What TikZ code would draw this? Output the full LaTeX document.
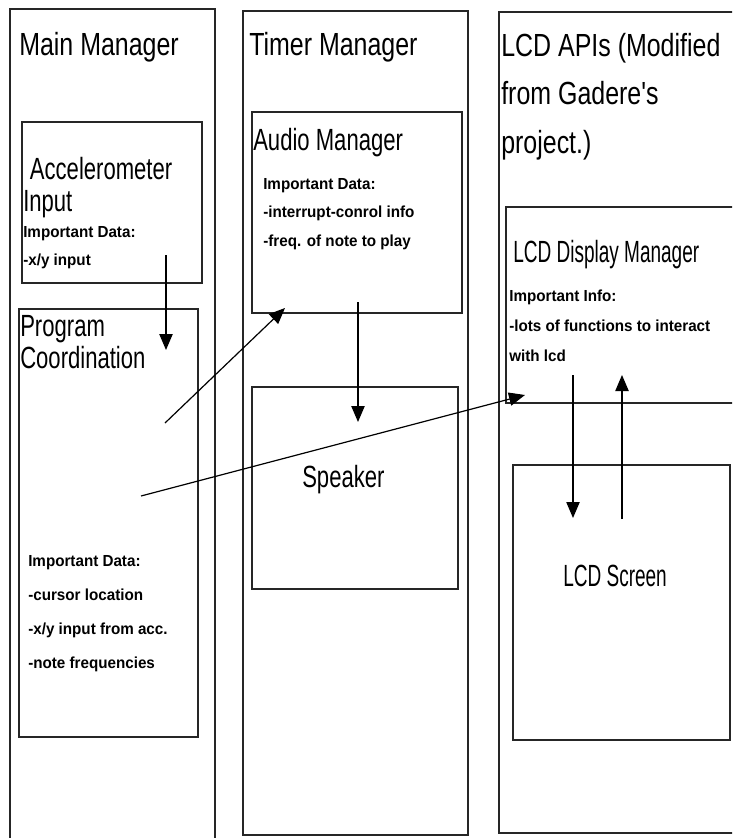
\documentclass[tikz,border=0pt]{standalone}
\usepackage{fontspec}
\setmainfont{Liberation Sans}
\newfontfamily\hdfont[FakeStretch=0.78]{Liberation Sans}
\newfontfamily\subfont[FakeStretch=0.72]{Liberation Sans}
\newfontfamily\lcdfont[FakeStretch=0.62]{Liberation Sans}
\newfontfamily\notefont[FakeStretch=0.95]{Liberation Sans}
\usetikzlibrary{arrows.meta,positioning,fit}
\tikzset{
  col/.style ={rectangle, draw=black!85, line width=1pt, inner sep=0pt},
  blk/.style ={rectangle, draw=black!85, line width=1pt, inner sep=0pt},
  ttl/.style ={anchor=north west, inner sep=0pt, align=left,
               font=\hdfont\fontsize{24}{36.4}\selectfont},
  sub/.style ={anchor=north west, inner sep=0pt, align=left,
               font=\subfont\fontsize{23}{24}\selectfont},
  note/.style={anchor=north west, inner sep=0pt, align=left,
               font=\notefont\bfseries\fontsize{12}{21.4}\selectfont},
  ar/.style  ={-{Triangle[length=12pt,width=10pt]}, line width=0.9pt, draw=black},
}
\begin{document}
\begin{tikzpicture}[x=0.75pt, y=-0.75pt]
\clip (0,0) rectangle (732,838);

\node[col, fit={(10,9) (215,860)}] (mainmgr) {};
\node[col, fit={(243,11) (468,835)}] (timermgr) {};
\node[col, fit={(499,12) (770,833)}] (lcdapi) {};

\node[blk, fit={(22,122) (202,283)}] (accel) {};
\node[blk, fit={(19,309) (198,737)}] (progco) {};
\node[blk, fit={(252,112) (462,313)}] (audio) {};
\node[blk, fit={(252,387) (458,589)}] (speaker) {};
\node[blk, fit={(506,207) (770,403)}] (lcddisp) {};
\node[blk, fit={(513,465) (730,740)}] (lcdscr) {};

\node[ttl] (mainttl) at (19,32) {Main Manager};
\node[ttl] (timerttl) at (249,32) {Timer Manager};
\node[ttl] (lcdttl) at (501,33) {LCD APIs (Modified\\from Gadere's\\project.)};

\node[sub] (accelttl) at (23,157) {\hspace*{5pt}Accelerometer\\Input};
\node[note] (accelnote) at (23,226) {Important Data:\\-x/y input};
\node[sub] (progttl) at (20,315) {Program\\Coordination};
\node[note, font=\notefont\bfseries\fontsize{12}{25.5}\selectfont] (prognote) at (28,555)
  {Important Data:\\-cursor location\\-x/y input from acc.\\-note frequencies};
\node[sub] (audiottl) at (253,128) {Audio Manager};
\node[note] (audionote) at (263,178) {Important Data:\\-interrupt-conrol info\\-freq. of note to play};
\node[sub] (speakerttl) at (302,465) {Speaker};
\node[sub, font=\lcdfont\fontsize{23}{24}\selectfont] (lcddispttl) at (513,240) {LCD Display Manager};
\node[note, font=\notefont\bfseries\fontsize{12}{22.5}\selectfont] (lcddispnote) at (509,290)
  {Important Info:\\-lots of functions to interact\\with lcd};
\node[sub, font=\lcdfont\fontsize{23}{24}\selectfont] (lcdscrttl) at (563,565) {LCD Screen};

\coordinate (accelout) at (166,255);
\coordinate (progin) at (166,350);
\coordinate (progaud) at (165,423);
\coordinate (audin) at (285,308);
\coordinate (proglcd) at (141,496);
\coordinate (lcdin) at (525,395);
\coordinate (audout) at (358,302);
\coordinate (spkin) at (358,422);
\coordinate (dispout) at (573,375);
\coordinate (scrin) at (573,518);
\coordinate (scrout) at (622,519);
\coordinate (dispin) at (622,375);

\draw[ar] (accelout) -- (progin);
\draw[ar] (progaud) -- (audin);
\draw[ar] (proglcd) -- (lcdin);
\draw[ar] (audout) -- (spkin);
\draw[ar] (dispout) -- (scrin);
\draw[ar] (scrout) -- (dispin);
\end{tikzpicture}
\end{document}
